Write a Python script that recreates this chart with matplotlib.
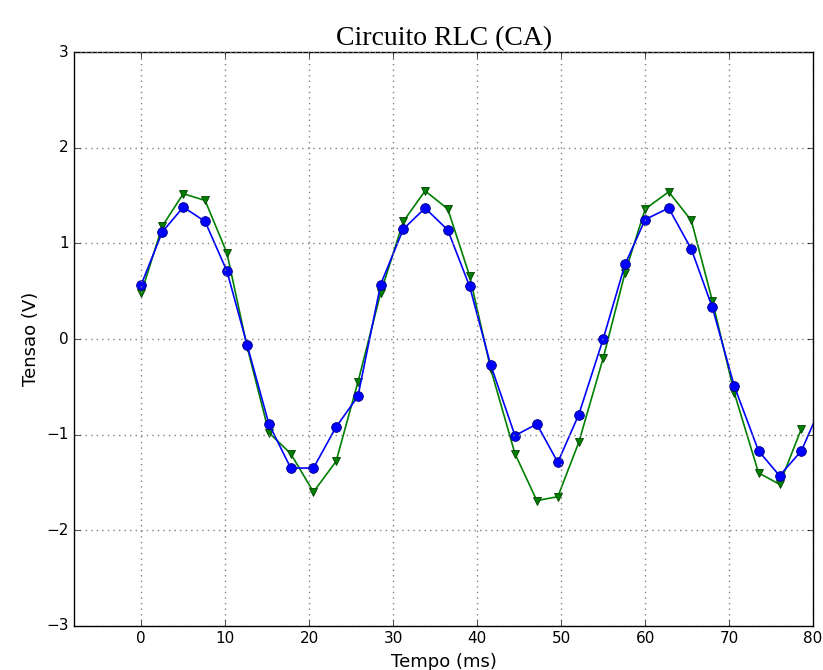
import matplotlib
matplotlib.use("Agg")
import matplotlib.pyplot as plt

# ===== DADOS =====
tempo = [0.0, 2.5, 5.0, 7.6, 10.2, 12.6, 15.2, 17.8, 20.5, 23.2, 25.8,
         28.5, 31.2, 33.8, 36.5, 39.1, 41.6, 44.5, 47.1, 49.6, 52.1,
         55.0, 57.6, 60.0, 62.8, 65.5, 68.0, 70.6, 73.5, 76.0, 78.6, 81.2]

tensao_azul = [0.57, 1.12, 1.38, 1.23, 0.71, -0.06, -0.89, -1.35, -1.35, -0.92, -0.60,
               0.57, 1.15, 1.37, 1.14, 0.55, -0.27, -1.01, -0.89, -1.29, -0.79,
               0.00, 0.78, 1.25, 1.37, 0.94, 0.33, -0.49, -1.17, -1.43, -1.17, -0.65]

tensao_verde = [0.48, 1.18, 1.52, 1.45, 0.90, -0.08, -0.98, -1.20, -1.60, -1.28, -0.45,
                0.48, 1.23, 1.55, 1.36, 0.66, -0.31, -1.20, -1.69, -1.65, -1.08,
                -0.20, 0.69, 1.36, 1.54, 1.24, 0.40, -0.56, -1.40, -1.52, -0.94]

xticks = [0, 10, 20, 30, 40, 50, 60, 70, 80]
yticks = [-3, -2, -1, 0, 1, 2, 3]

# ===== VE =====
plt.style.use("classic")
fig = plt.figure(figsize=(8.23, 6.7), dpi=100, facecolor="white")
ax = fig.add_axes([0.09, 0.066, 0.898, 0.856])

ax.plot(tempo[:len(tensao_verde)], tensao_verde, color="green", marker="v",
        markersize=6, linewidth=1.2, markeredgecolor="#004000", markeredgewidth=0.6)
ax.plot(tempo, tensao_azul, color="blue", marker="o",
        markersize=7, linewidth=1.2, markeredgecolor="#000080", markeredgewidth=0.6)

ax.set_xlim(-8, 80)
ax.set_ylim(-3, 3)
ax.set_xticks(xticks)
ax.set_yticks(yticks)
ax.tick_params(labelsize=11)
ax.grid(True, linestyle=":", color="gray", linewidth=1)

ax.set_title("Circuito RLC (CA)", fontsize=20, family="Liberation Serif")
ax.set_xlabel("Tempo (ms)", fontsize=13)
ax.set_ylabel("Tensao (V)", fontsize=13, labelpad=4)

fig.savefig("out.png", dpi=100, facecolor="white")
